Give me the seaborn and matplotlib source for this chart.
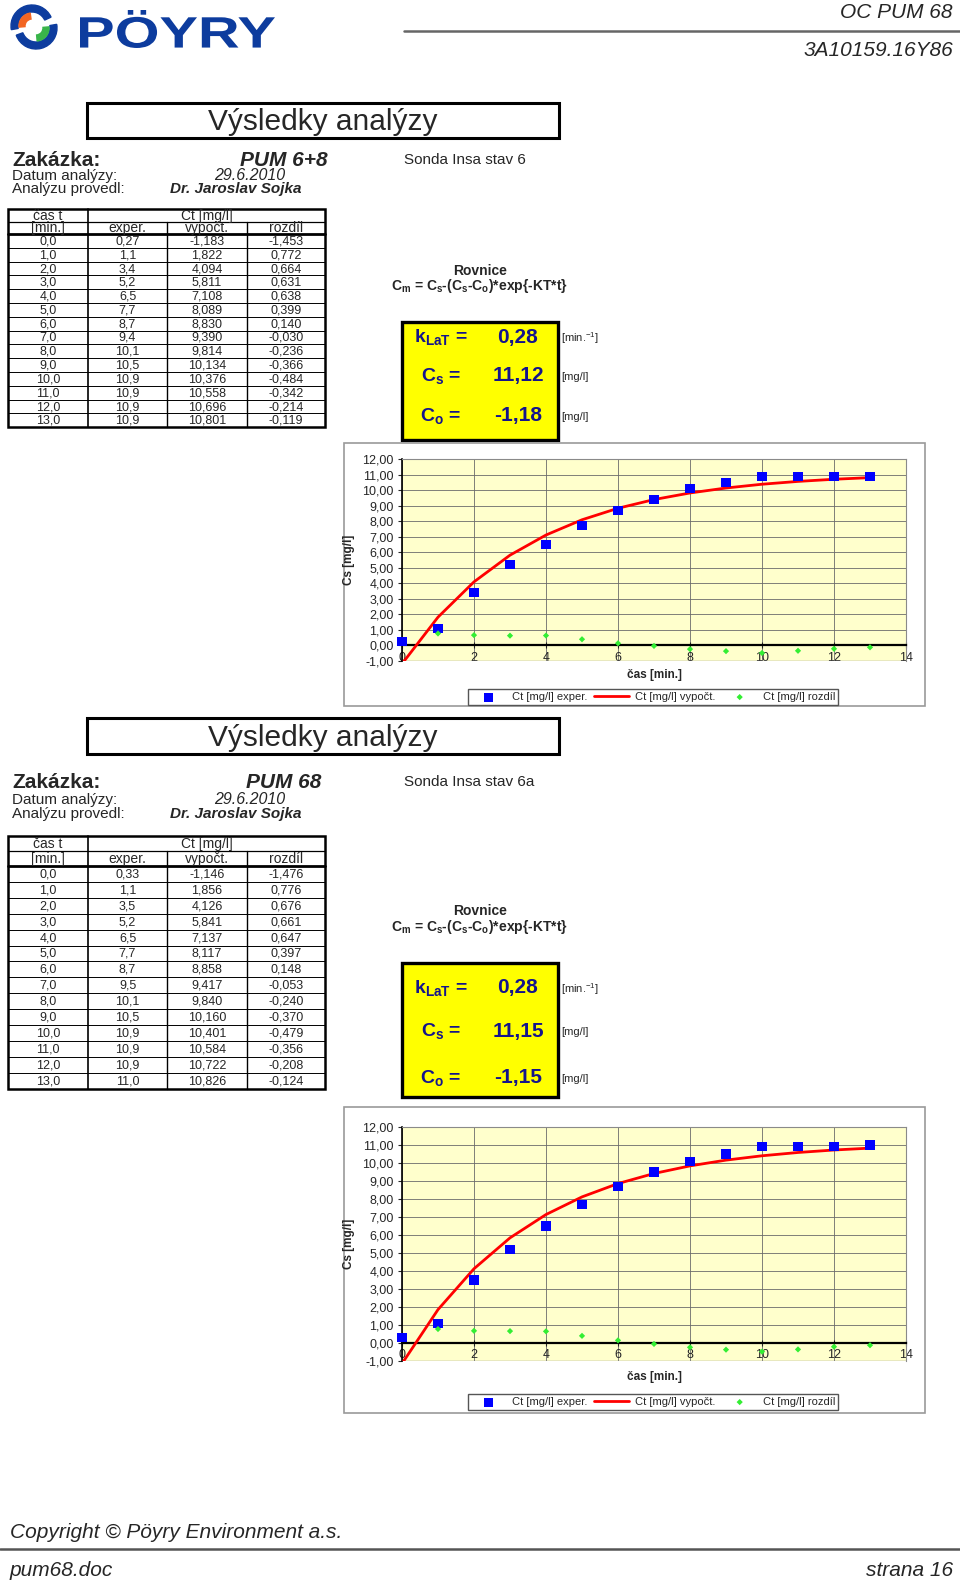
import numpy as np
import pandas as pd
import matplotlib
matplotlib.use("Agg")
import matplotlib.pyplot as plt
from matplotlib.patches import Rectangle, Wedge, PathPatch
from matplotlib.textpath import TextPath
from matplotlib.font_manager import FontProperties
from matplotlib.transforms import Affine2D
import seaborn as sns

# hodnoty odectene ze stranky
cas = [0.0, 1.0, 2.0, 3.0, 4.0, 5.0, 6.0, 7.0, 8.0, 9.0, 10.0, 11.0, 12.0, 13.0]

exper_1 = [0.27, 1.1, 3.4, 5.2, 6.5, 7.7, 8.7, 9.4, 10.1, 10.5, 10.9, 10.9, 10.9, 10.9]
vypoct_1 = [-1.183, 1.822, 4.094, 5.811, 7.108, 8.089, 8.830, 9.390, 9.814, 10.134, 10.376, 10.558, 10.696, 10.801]
rozdil_1 = [-1.453, 0.772, 0.664, 0.631, 0.638, 0.399, 0.140, -0.030, -0.236, -0.366, -0.484, -0.342, -0.214, -0.119]

exper_2 = [0.33, 1.1, 3.5, 5.2, 6.5, 7.7, 8.7, 9.5, 10.1, 10.5, 10.9, 10.9, 10.9, 11.0]
vypoct_2 = [-1.146, 1.856, 4.126, 5.841, 7.137, 8.117, 8.858, 9.417, 9.840, 10.160, 10.401, 10.584, 10.722, 10.826]
rozdil_2 = [-1.476, 0.776, 0.676, 0.661, 0.647, 0.397, 0.148, -0.053, -0.240, -0.370, -0.479, -0.356, -0.208, -0.124]

param_names = ["k$_\\mathbf{LaT}$ =", "C$_\\mathbf{s}$ =", "C$_\\mathbf{o}$ ="]
param_units = ["[min.$^\\mathregular{-1}$]", "[mg/l]", "[mg/l]"]
params_1 = ["0,28", "11,12", "-1,18"]
params_2 = ["0,28", "11,15", "-1,15"]

x_ticks = [0, 2, 4, 6, 8, 10, 12, 14]
y_ticks = [-1, 0, 1, 2, 3, 4, 5, 6, 7, 8, 9, 10, 11, 12]
y_tick_labels = [f"{v:.2f}".replace(".", ",") for v in y_ticks]

W, H = 960, 1585
NAVY = "#14148c"
LOGO_BLUE = "#0d3c9e"

sns.set_style("white")
plt.rcParams["font.family"] = ["Liberation Sans", "DejaVu Sans"]
plt.rcParams["mathtext.fontset"] = "custom"
plt.rcParams["mathtext.rm"] = "Liberation Sans"
plt.rcParams["mathtext.bf"] = "Liberation Sans:bold"
plt.rcParams["mathtext.it"] = "Liberation Sans:italic"

fig = plt.figure(figsize=(W / 100, H / 100), dpi=100)
bg = fig.add_axes([0, 0, 1, 1], zorder=0)
bg.set_xlim(0, W)
bg.set_ylim(H, 0)
bg.axis("off")

NARROW = ["Liberation Sans Narrow", "Liberation Sans"]


def fmt(v, nd=None):
    if nd is None:
        return str(v).replace(".", ",")
    return f"{v:.{nd}f}".replace(".", ",")


# ---- hlavicka: logo ----
bg.add_patch(Wedge((32, 26), 21, 170, 335, width=7, color=LOGO_BLUE))
bg.add_patch(Wedge((32, 26), 13, 175, 262, width=6, color="#f26522"))
bg.add_patch(Wedge((36, 28), 21, -10, 160, width=7, color=LOGO_BLUE))
bg.add_patch(Wedge((36, 28), 13, -5, 85, width=6, color="#39b54a"))

tp = TextPath((0, 0), "PÖYRY", size=50, prop=FontProperties(family="Liberation Sans", weight="bold"))
ext = tp.get_extents()
sx = (275 - 80) / ext.width
sy = (48 - 10) / ext.height
tr = Affine2D().translate(-ext.x0, -ext.y0).scale(sx, -sy).translate(80, 48)
bg.add_patch(PathPatch(tr.transform_path(tp), fc=LOGO_BLUE, ec="none"))

bg.text(953, 13, "OC PUM 68", family=NARROW, style="italic", fontsize=15, ha="right", va="center")
bg.plot([404, 960], [31, 31], color="#666666", lw=1.8)
bg.text(953, 51, "3A10159.16Y86", family=NARROW, style="italic", fontsize=15, ha="right", va="center")


def draw_header(box_top, box_bot, y_zak, y_dat, y_prov, zakazka, sonda):
    bg.add_patch(Rectangle((87, box_top), 472, box_bot - box_top, fill=False, ec="black", lw=2.2))
    bg.text(323, (box_top + box_bot) / 2 + 2, "Výsledky analýzy", fontsize=21.5, ha="center", va="center")
    bg.text(12, y_zak, "Zakázka:", fontsize=15, fontweight="heavy", va="center")
    bg.text(284, y_zak, zakazka, fontsize=15, fontweight="bold", style="italic", ha="center", va="center")
    bg.text(404, y_zak, sonda, fontsize=11, va="center")
    bg.text(12, y_dat, "Datum analýzy:", fontsize=11, va="center")
    bg.text(250, y_dat, "29.6.2010", fontsize=11.5, style="italic", ha="center", va="center")
    bg.text(12, y_prov, "Analýzu provedl:", fontsize=11, va="center")
    bg.text(170, y_prov, "Dr. Jaroslav Sojka", fontsize=11, fontweight="bold", style="italic", va="center")


def draw_table(top, head_h, row_h, exper, vypoct, rozdil):
    cols = [8, 88, 167, 247, 325]
    n = len(cas)
    y1 = top + head_h
    y2 = top + 2 * head_h
    bottom = y2 + n * row_h
    bg.add_patch(Rectangle((cols[0], top), cols[-1] - cols[0], bottom - top, fill=False, ec="black", lw=1.8))
    bg.plot([cols[0], cols[-1]], [y1, y1], color="black", lw=0.9)
    bg.plot([cols[0], cols[-1]], [y2, y2], color="black", lw=2.0)
    bg.plot([cols[1], cols[1]], [top, bottom], color="black", lw=1.2)
    for c in cols[2:4]:
        bg.plot([c, c], [y1, bottom], color="black", lw=1.0)
    for i in range(1, n):
        y = y2 + i * row_h
        bg.plot([cols[0], cols[-1]], [y, y], color="black", lw=0.7)
    cx = [(cols[i] + cols[i + 1]) / 2 for i in range(4)]
    bg.text(cx[0], top + head_h / 2 + 0.5, "čas t", fontsize=10, ha="center", va="center")
    bg.text((cols[1] + cols[-1]) / 2, top + head_h / 2 + 0.5, "Ct [mg/l]", fontsize=10, ha="center", va="center")
    for x, s in zip(cx, ["[min.]", "exper.", "vypočt.", "rozdíl"]):
        bg.text(x, y1 + head_h / 2 + 0.5, s, fontsize=10, ha="center", va="center")
    for i in range(n):
        y = y2 + (i + 0.5) * row_h + 0.5
        row = [fmt(cas[i], 1), fmt(exper[i]), fmt(vypoct[i], 3), fmt(rozdil[i], 3)]
        for x, s in zip(cx, row):
            bg.text(x, y, s, fontsize=9, ha="center", va="center")


def draw_params(y_rov, y_cm, box_top, box_bot, rows_y, values):
    bg.text(480, y_rov, "Rovnice", fontsize=10, fontweight="bold", ha="center", va="center")
    bg.text(480, y_cm, "C$_\\mathbf{m}$ = C$_\\mathbf{s}$-(C$_\\mathbf{s}$-C$_\\mathbf{o}$)*exp{-KT*t}",
            fontsize=10, fontweight="bold", ha="center", va="center")
    bg.add_patch(Rectangle((402, box_top), 156, box_bot - box_top, fc="#ffff00", ec="black", lw=2.4))
    for y, name, val, unit in zip(rows_y, param_names, values, param_units):
        bg.text(441, y, name, fontsize=14, fontweight="bold", color=NAVY, ha="center", va="center")
        bg.text(518, y, val, fontsize=15, fontweight="bold", color=NAVY, ha="center", va="center")
        bg.text(561, y + 1, unit, fontsize=8, ha="left", va="center")


def draw_chart(frame, plot_top, plot_bot, y_xlab, y_leg, exper, vypoct, rozdil):
    fx0, fy0, fx1, fy1 = frame
    bg.add_patch(Rectangle((fx0, fy0), fx1 - fx0, fy1 - fy0, fill=False, ec="#9a9a9a", lw=1.2))
    left, right = 402, 906
    ax = fig.add_axes([left / W, 1 - plot_bot / H, (right - left) / W, (plot_bot - plot_top) / H], zorder=2)
    df = pd.DataFrame({"cas": cas, "exper": exper, "vypoct": vypoct, "rozdil": rozdil})
    ax.set_facecolor("#ffffcc")
    sns.lineplot(data=df, x="cas", y="vypoct", color="#ff0000", lw=2.0, ax=ax,
                 label="Ct [mg/l] vypočt.", zorder=3)
    sns.scatterplot(data=df, x="cas", y="exper", marker="s", s=42, color="#0000ff", edgecolor="none",
                    ax=ax, label="Ct [mg/l] exper.", zorder=4, clip_on=False)
    sns.scatterplot(data=df, x="cas", y="rozdil", marker="D", s=10, color="#33ee33", edgecolor="none",
                    ax=ax, label="Ct [mg/l] rozdíl", zorder=4)
    ax.set_xlim(0, 14)
    ax.set_ylim(-1, 12)
    ax.set_xticks(x_ticks)
    ax.set_yticks(y_ticks)
    ax.set_yticklabels(y_tick_labels)
    ax.grid(True, color="#6a6a6a", lw=0.6)
    ax.set_axisbelow(True)
    for s in ["top", "right"]:
        ax.spines[s].set_color("#8a8a8a")
        ax.spines[s].set_linewidth(0.8)
    ax.spines["left"].set_color("black")
    ax.spines["left"].set_linewidth(1.2)
    ax.spines["bottom"].set_position(("data", 0))
    ax.spines["bottom"].set_color("black")
    ax.spines["bottom"].set_linewidth(1.6)
    ax.axhline(-1, color="#8a8a8a", lw=1.0, zorder=1)
    ax.tick_params(axis="y", direction="out", length=3, width=0.8, labelsize=9, pad=3, left=True)
    ax.tick_params(axis="x", direction="inout", length=5, width=0.8, labelsize=9, pad=2, bottom=True)
    ax.set_xlabel("")
    ax.set_ylabel("")
    bg.text(654, y_xlab, "čas [min.]", fontsize=8.5, fontweight="bold", ha="center", va="center")
    bg.text(349, (plot_top + plot_bot) / 2, "Cs [mg/l]", fontsize=8.5, fontweight="bold", rotation=90,
            ha="center", va="center", family=NARROW)
    handles, labels = ax.get_legend_handles_labels()
    order = [1, 0, 2]
    ax.legend([handles[i] for i in order], [labels[i] for i in order], loc="center",
              bbox_to_anchor=(653 / W, 1 - y_leg / H), bbox_transform=fig.transFigure, ncol=3,
              fontsize=8, frameon=True, fancybox=False, framealpha=1, edgecolor="#555555",
              borderpad=0.25, handlelength=3.2, handletextpad=0.5, columnspacing=0.6,
              borderaxespad=0)
    return ax


# ---- blok 1 ----
draw_header(103, 138, 160, 176, 189, "PUM 6+8", "Sonda Insa stav 6")
draw_table(209, 12.5, 13.8, exper_1, vypoct_1, rozdil_1)
draw_params(271, 286, 322, 440, [337, 376, 416], params_1)
draw_chart((344, 443, 925, 706), 459, 661, 675, 697, exper_1, vypoct_1, rozdil_1)

# ---- blok 2 ----
draw_header(718, 754, 782, 800, 814, "PUM 68", "Sonda Insa stav 6a")
draw_table(836, 15.0, 15.9, exper_2, vypoct_2, rozdil_2)
draw_params(911, 927, 963, 1097, [988, 1031, 1078], params_2)
draw_chart((344, 1107, 925, 1413), 1127, 1361, 1377, 1402, exper_2, vypoct_2, rozdil_2)

# ---- paticka ----
bg.text(10, 1532, "Copyright © Pöyry Environment a.s.", family=NARROW, style="italic", fontsize=15,
        va="center")
bg.plot([0, 960], [1549, 1549], color="#555555", lw=1.8)
bg.text(10, 1570, "pum68.doc", family=NARROW, style="italic", fontsize=15, va="center")
bg.text(953, 1570, "strana 16", family=NARROW, style="italic", fontsize=15, ha="right", va="center")

fig.savefig("out.png", dpi=100)
plt.close(fig)
